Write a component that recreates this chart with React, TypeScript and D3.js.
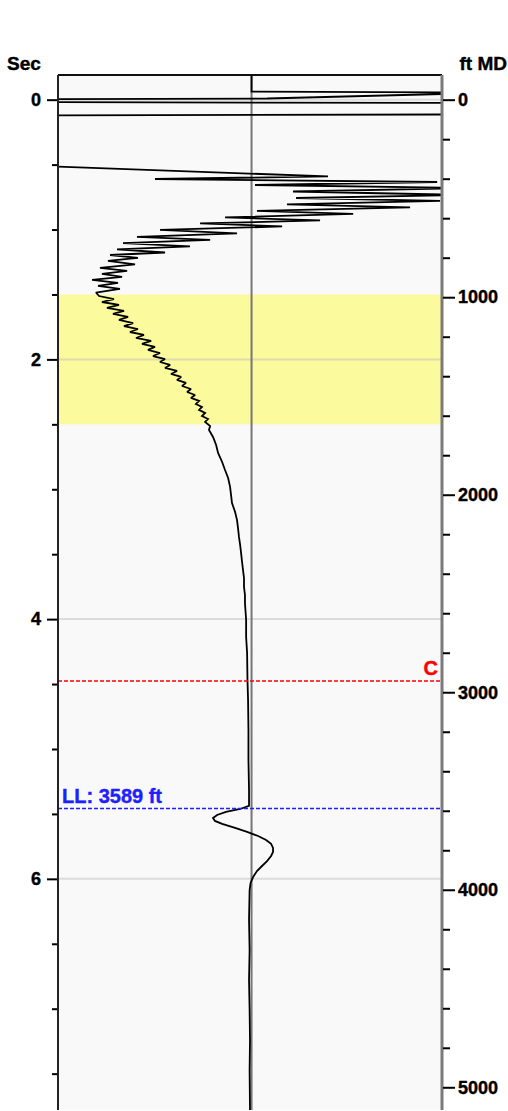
import { useEffect, useRef } from "react";
import * as d3 from "d3";

const WIDTH = 508;
const HEIGHT = 1111;

// left axis: two-way time (s), right axis: measured depth (ft)
const secDomain = [-0.19, 7.78];
const ftDomain = [-125, 5115];
const ampDomain = [-100, 98.4];

const secLabels = [0, 2, 4, 6];
const ftLabels = [0, 1000, 2000, 3000, 4000, 5000];

// highlighted time window (s)
const bandSec = [1.5, 2.5];

// depth markers (ft)
const markerNames = ["C", "LL"];
const markerFt = [2943, 3589];

// trace samples: [time (s), amplitude]; values past the track edges are clipped
const trace: [number, number][] = [
  [-0.19, 0], [-0.062, 0], [-0.055, 128], [-0.009, 8], [0.002, -285],
  [0.014, -285], [0.029, 232], [0.11, 232], [0.126, -285], [0.464, -285],
  [0.511, -109], [0.591, 39.5], [0.611, -49.9], [0.634, 95.9], [0.657, 1.8],
  [0.68, 112.9], [0.707, 21.4], [0.734, 110.3], [0.757, 23.0], [0.78, 97.4],
  [0.807, 18.3], [0.83, 81.9], [0.857, 2.8], [0.88, 52.5], [0.907, -13.7],
  [0.93, 35.4], [0.953, -26.6], [0.976, 15.8], [1.003, -47.3], [1.03, -7.5],
  [1.057, -59.2], [1.08, -21.4], [1.104, -66.4], [1.13, -31.8], [1.153, -69.5],
  [1.177, -44.7], [1.196, -73.1], [1.219, -58.7], [1.242, -74.2], [1.269, -60.2],
  [1.296, -78.3], [1.319, -64.3], [1.342, -77.3], [1.365, -66.9], [1.388, -82.4],
  [1.411, -69.0], [1.434, -79.3], [1.457, -68.0], [1.485, -80.4],
  [1.512, -78.8], [1.535, -71.1], [1.558, -77.3], [1.581, -68.5], [1.604, -74.7],
  [1.627, -65.9], [1.65, -71.6], [1.673, -63.8], [1.696, -68.5], [1.72, -61.2],
  [1.743, -65.9], [1.766, -58.7], [1.789, -62.8], [1.812, -55.6], [1.835, -59.7],
  [1.858, -51.9], [1.881, -56.6], [1.904, -49.9], [1.927, -53.5], [1.951, -47.3],
  [1.974, -50.9], [1.997, -44.7], [2.02, -47.3], [2.043, -42.1], [2.066, -44.7],
  [2.089, -38.5], [2.112, -41.6], [2.135, -36.4], [2.158, -38.5], [2.181, -33.9],
  [2.205, -35.9], [2.228, -31.3], [2.251, -33.3], [2.274, -29.2], [2.297, -31.3],
  [2.32, -27.1], [2.343, -28.7], [2.366, -25.6], [2.389, -27.1], [2.412, -24.0],
  [2.436, -25.6], [2.459, -22.5], [2.482, -24.0], [2.513, -21.4], [2.543, -22.0],
  [2.597, -19.9], [2.659, -18.3], [2.72, -17.3], [2.79, -15.2], [2.852, -13.7],
  [2.913, -12.1], [2.982, -11.1], [3.044, -10.6], [3.106, -10.1], [3.175, -8.5],
  [3.237, -7.5], [3.298, -7.0], [3.367, -6.5], [3.429, -5.9], [3.491, -5.4],
  [3.56, -4.9], [3.622, -4.4], [3.683, -3.9], [3.752, -3.9], [3.814, -3.4],
  [3.876, -3.4], [4.007, -2.8], [4.138, -2.8], [4.261, -2.3], [4.468, -2.1],
  [4.622, -1.8], [4.853, -1.6], [5.084, -1.6], [5.315, -1.3], [5.438, -1.3],
  [5.462, -5.9], [5.485, -13.2], [5.508, -17.8], [5.531, -19.9], [5.554, -18.9],
  [5.577, -15.2], [5.608, -8.5], [5.639, -2.3], [5.67, 3.4], [5.701, 7.5],
  [5.731, 10.1], [5.762, 11.1], [5.793, 11.1], [5.824, 10.1], [5.863, 8.0],
  [5.901, 5.4], [5.94, 2.8], [5.986, 0.8], [6.032, -0.5], [6.086, -1.0],
  [6.317, -1.3], [6.548, -1.0], [6.779, -1.3], [7.01, -1.0], [7.241, -0.8],
  [7.472, -1.0], [7.788, -0.8],
];

const FONT = "'Liberation Sans', Arial, sans-serif";

const App = () => {
  const svgRef = useRef(null);

  useEffect(() => {
    const svg = d3.select(svgRef.current);
    svg.selectAll("*").remove();

    const m = { top: 75, bottom: 1110, left: 58, right: 442 };

    const y = d3.scaleLinear().domain(secDomain).range([m.top, m.bottom]);
    const yFt = d3.scaleLinear().domain(ftDomain).range([m.top, m.bottom]);
    const x = d3.scaleLinear().domain(ampDomain).range([m.left, m.right]);

    svg
      .append("defs")
      .append("clipPath")
      .attr("id", "track-clip")
      .append("rect")
      .attr("x", m.left)
      .attr("y", m.top)
      .attr("width", m.right - m.left)
      .attr("height", m.bottom - m.top);

    // track background
    svg
      .append("rect")
      .attr("x", m.left)
      .attr("y", m.top)
      .attr("width", m.right - m.left)
      .attr("height", m.bottom - m.top)
      .attr("fill", "#f9f9f9");

    // yellow window
    svg
      .append("rect")
      .attr("x", m.left)
      .attr("y", y(bandSec[0]))
      .attr("width", m.right - m.left)
      .attr("height", y(bandSec[1]) - y(bandSec[0]))
      .attr("fill", "#fbfa9c");

    // grid
    svg
      .append("g")
      .selectAll("line")
      .data(secLabels)
      .join("line")
      .attr("x1", m.left)
      .attr("x2", m.right)
      .attr("y1", (d) => y(d))
      .attr("y2", (d) => y(d))
      .attr("stroke", "#bfbfbf")
      .attr("stroke-opacity", 0.5)
      .attr("stroke-width", 2);

    // zero line
    svg
      .append("line")
      .attr("x1", x(0))
      .attr("x2", x(0))
      .attr("y1", m.top)
      .attr("y2", m.bottom)
      .attr("stroke", "#767676")
      .attr("stroke-width", 2);

    const line = d3
      .line<[number, number]>()
      .x((d) => x(d[1]))
      .y((d) => y(d[0]));

    svg
      .append("path")
      .datum(trace)
      .attr("clip-path", "url(#track-clip)")
      .attr("d", line)
      .attr("fill", "none")
      .attr("stroke", "#000")
      .attr("stroke-width", 1.8)
      .attr("stroke-linejoin", "miter")
      .attr("stroke-miterlimit", 2);

    // markers
    const markerColor = { C: "#ff0000", LL: "#1f1fff" };
    markerNames.forEach((name, i) => {
      const yy = yFt(markerFt[i]);
      svg
        .append("line")
        .attr("x1", m.left)
        .attr("x2", m.right)
        .attr("y1", yy)
        .attr("y2", yy)
        .attr("stroke", markerColor[name])
        .attr("stroke-width", 1.5)
        .attr("stroke-dasharray", "4 2");
      const isLeft = name === "LL";
      svg
        .append("text")
        .attr("x", isLeft ? m.left + 4 : m.right - 4)
        .attr("y", yy - 6)
        .attr("text-anchor", isLeft ? "start" : "end")
        .attr("fill", markerColor[name])
        .attr("stroke", markerColor[name])
        .attr("stroke-width", 0.4)
        .attr("font-family", FONT)
        .attr("font-weight", "bold")
        .attr("font-size", "20px")
        .text(isLeft ? `${name}: ${markerFt[i]} ft` : name);
    });

    // frame
    svg
      .append("line")
      .attr("x1", m.left)
      .attr("x2", m.right)
      .attr("y1", m.top)
      .attr("y2", m.top)
      .attr("stroke", "#111")
      .attr("stroke-width", 2);
    svg
      .append("line")
      .attr("x1", m.left)
      .attr("x2", m.left)
      .attr("y1", m.top)
      .attr("y2", m.bottom)
      .attr("stroke", "#222")
      .attr("stroke-width", 2);
    svg
      .append("line")
      .attr("x1", m.right)
      .attr("x2", m.right)
      .attr("y1", m.top)
      .attr("y2", m.bottom)
      .attr("stroke", "#7a7a7a")
      .attr("stroke-width", 3);

    const styleAxis = (g) => {
      g.select(".domain").remove();
      g.selectAll(".tick line").attr("stroke", "#000").attr("stroke-width", 2);
      g.selectAll(".tick text")
        .attr("fill", "#000")
        .attr("stroke", "#000")
        .attr("stroke-width", 0.4)
        .attr("font-family", FONT)
        .attr("font-weight", "bold")
        .attr("font-size", "18px");
    };

    const secMinor = d3.range(0.5, 7.6, 0.5).filter((v) => v % 2 !== 0);
    const ftMinor = d3.range(200, 5001, 200).filter((v) => v % 1000 !== 0);

    svg
      .append("g")
      .attr("transform", `translate(${m.left - 1},0)`)
      .call(d3.axisLeft(y).tickValues(secLabels).tickSize(10).tickPadding(6).tickFormat(d3.format("d")))
      .call(styleAxis);
    svg
      .append("g")
      .attr("transform", `translate(${m.left - 1},0)`)
      .call(d3.axisLeft(y).tickValues(secMinor).tickSize(5).tickFormat(() => ""))
      .call(styleAxis);
    svg
      .append("g")
      .attr("transform", `translate(${m.right + 1},0)`)
      .call(d3.axisRight(yFt).tickValues(ftLabels).tickSize(12).tickPadding(3).tickFormat(d3.format("d")))
      .call(styleAxis);
    svg
      .append("g")
      .attr("transform", `translate(${m.right + 1},0)`)
      .call(d3.axisRight(yFt).tickValues(ftMinor).tickSize(7).tickFormat(() => ""))
      .call(styleAxis);

    // axis titles
    svg
      .append("text")
      .attr("x", 7)
      .attr("y", 70)
      .attr("font-family", FONT)
      .attr("font-weight", "bold")
      .attr("font-size", "19px")
      .attr("stroke", "#000")
      .attr("stroke-width", 0.4)
      .text("Sec");
    svg
      .append("text")
      .attr("x", 507)
      .attr("y", 70)
      .attr("text-anchor", "end")
      .attr("font-family", FONT)
      .attr("font-weight", "bold")
      .attr("font-size", "19px")
      .attr("stroke", "#000")
      .attr("stroke-width", 0.4)
      .text("ft MD");
  }, []);

  return (
    <svg
      ref={svgRef}
      width={WIDTH}
      height={HEIGHT}
      style={{ position: "absolute", left: 0, top: 0, background: "#fff" }}
    ></svg>
  );
};

export default App;
